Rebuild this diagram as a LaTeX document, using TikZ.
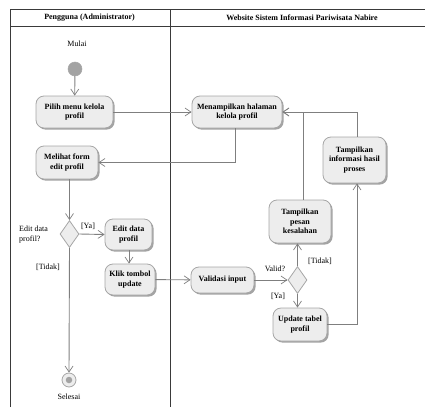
\documentclass[tikz,border=0pt]{standalone}
\usepackage{fontspec}
\setmainfont{Liberation Serif}
\usetikzlibrary{shapes.geometric,arrows.meta,shadows}
\definecolor{boxfill}{HTML}{EDEDED}
\definecolor{boxline}{HTML}{A6A6A6}
\definecolor{shade}{HTML}{A3A3A3}
\definecolor{flow}{HTML}{7F7F7F}
\definecolor{lane}{HTML}{3A3A3A}
\tikzset{
  act/.style={draw=boxline, fill=boxfill, rounded corners=8pt, line width=0.8pt,
    align=center, inner sep=1pt, font=\fontsize{8}{9.5}\selectfont\bfseries,
    drop shadow={shadow xshift=1.6pt, shadow yshift=-1.6pt, fill=shade, opacity=1}},
  decision/.style={draw=boxline, fill=boxfill, diamond, line width=0.8pt, inner sep=0pt,
    minimum width=19pt, minimum height=27pt},
  flowline/.style={draw=flow, line width=0.9pt, -{Straight Barb[length=6pt,width=8pt,line width=0.7pt]}},
  plainflow/.style={draw=flow, line width=0.9pt},
  guard/.style={font=\fontsize{8}{9.5}\selectfont, inner sep=0pt},
  lanehead/.style={font=\fontsize{8}{9.5}\selectfont\bfseries, inner sep=0pt},
  laneline/.style={draw=lane, line width=0.9pt}
}
\begin{document}
\begin{tikzpicture}[x=1pt,y=-1pt]
\useasboundingbox (0,0) rectangle (425,407);

% swimlane frame
\draw[laneline] (10.5,407) -- (10.5,9.5) -- (425,9.5);
\draw[laneline] (10.5,26) -- (425,26);
\draw[laneline] (170,9.5) -- (170,407);
\node[lanehead] (laneuser) at (89.5,18) {Pengguna (Administrator)};
\node[lanehead] (lanesys) at (302,18) {Website Sistem Informasi Pariwisata Nabire};

% start and end
\node[guard] (mulai) at (77,44) {Mulai};
\node[circle, fill=shade, draw=boxline, line width=0.5pt, minimum size=14pt, inner sep=0pt] (start) at (75,69) {};
\node[circle, fill=boxfill, draw=boxline, line width=0.8pt, minimum size=14pt, inner sep=0pt] (end) at (69,380) {};
\node[circle, fill=shade, minimum size=6.5pt, inner sep=0pt] (enddot) at (end.center) {};
\node[guard] (selesai) at (69,397) {Selesai};

% activities
\node[act, minimum width=77pt, minimum height=32pt] (pilih) at (74.5,112) {Pilih menu kelola\\profil};
\node[act, minimum width=90pt, minimum height=32pt] (tampilhal) at (237,112) {Menampilkan halaman\\kelola profil};
\node[act, minimum width=62pt, minimum height=33pt] (melihat) at (67,162.5) {Melihat form\\edit profil};
\node[decision] (dedit) at (69.5,234) {};
\node[act, minimum width=47pt, minimum height=31pt] (editdata) at (128.5,234.5) {Edit data\\profil};
\node[act, minimum width=50pt, minimum height=31pt] (klik) at (130,279.5) {Klik tombol\\update};
\node[act, minimum width=63pt, minimum height=26pt] (validasi) at (222.5,280) {Validasi input};
\node[decision] (dvalid) at (297.5,280) {};
\node[act, minimum width=62pt, minimum height=43pt] (pesan) at (300,221.5) {Tampilkan\\pesan\\kesalahan};
\node[act, minimum width=63pt, minimum height=46pt] (info) at (354.5,160) {Tampilkan\\informasi hasil\\proses};
\node[act, minimum width=54pt, minimum height=33pt] (update) at (300,324.5) {Update tabel\\profil};

% guard labels
\node[guard, align=left, anchor=west] (qedit) at (19,234.5) {Edit data\\profil?};
\node[guard] (yaedit) at (88,226) {[Ya]};
\node[guard] (tidakedit) at (48,267) {[Tidak]};
\node[guard] (qvalid) at (275,269) {Valid?};
\node[guard] (tidakvalid) at (320,261) {[Tidak]};
\node[guard] (yavalid) at (278,296) {[Ya]};

% control flow
\draw[flowline] (start) -- (pilih);
\draw[flowline] (pilih) -- (tampilhal);
\draw[flowline] (tampilhal.south -| 235,0) |- (melihat.east);
\draw[flowline] (melihat.south -| dedit.north) -- (dedit.north);
\draw[flowline] (dedit.east) -- (editdata.west);
\draw[flowline] (dedit.south) -- (end.north);
\draw[flowline] (editdata.south -| 129,0) -- (klik.north -| 129,0);
\draw[flowline] (klik) -- (validasi);
\draw[flowline] (validasi) -- (dvalid.west);
\draw[flowline] (dvalid.north) -- (pesan.south -| dvalid.north);
\draw[flowline] (dvalid.south) -- (update.north -| dvalid.south);
\draw[flowline] (pesan.north -| 303,0) |- (tampilhal.east);
\draw[flowline] (info.north -| 357,0) |- (tampilhal.east);
\draw[flowline] (update.east) -| (info.south -| 357,0);
\end{tikzpicture}
\end{document}
